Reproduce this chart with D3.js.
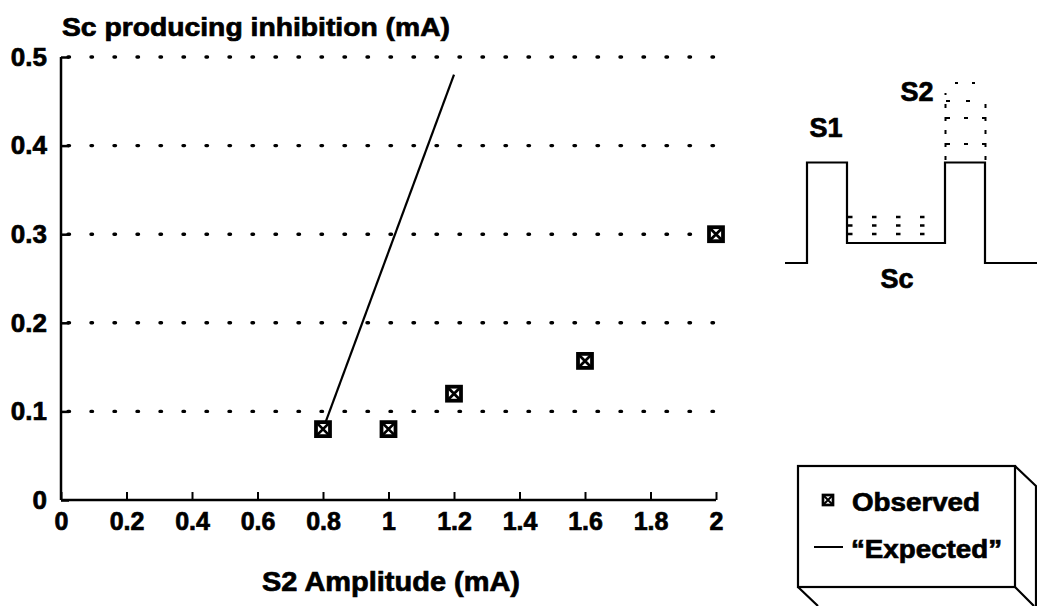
<!DOCTYPE html>
<html><head><meta charset="utf-8">
<script src="https://cdn.jsdelivr.net/npm/d3@7"></script>
<style>body{margin:0;background:#fff}svg{display:block}text{font-family:"Liberation Sans",Arial,sans-serif;font-weight:bold;fill:#000;stroke:#000;stroke-width:0.7px}</style>
</head><body>
<script>
// Data
const observedX = [0.8, 1.0, 1.2, 1.6, 2.0];
const observedY = [0.08, 0.08, 0.12, 0.157, 0.30];
const expectedX = [0.8, 1.2];
const expectedY = [0.08, 0.48];
const xTicks = [0, 0.2, 0.4, 0.6, 0.8, 1, 1.2, 1.4, 1.6, 1.8, 2];
const yTicks = [0, 0.1, 0.2, 0.3, 0.4, 0.5];
const legendLabels = ["Observed", "\u201CExpected\u201D"];

const W = 1037, H = 606;
const svg = d3.select("body").append("svg").attr("width", W).attr("height", H);

const x = d3.scaleLinear().domain([0, 2]).range([61, 716]);
const y = d3.scaleLinear().domain([0, 0.5]).range([500, 57]);

// gridlines (dotted)
svg.append("g").selectAll("line").data(yTicks.filter(d => d > 0)).join("line")
  .attr("x1", x(0) + 7).attr("x2", x(2) + 2)
  .attr("y1", d => y(d)).attr("y2", d => y(d))
  .attr("stroke", "#000").attr("stroke-width", 3.4)
  .attr("stroke-linecap", "round").attr("stroke-dasharray", "1.5,21.5");

// axes
const fmt = d => String(+d.toFixed(1));
const xAxis = d3.axisBottom(x).tickValues(xTicks).tickSize(-8).tickPadding(12).tickFormat(fmt);
const gx = svg.append("g").attr("transform", `translate(0,${y(0)})`).call(xAxis);
gx.select(".domain").attr("d", `M${x(0)},0H${x(2)}`).attr("stroke-width", 2.5);
gx.selectAll(".tick line").attr("stroke-width", 2);
gx.selectAll("text").attr("font-size", 25);

const yAxis = d3.axisLeft(y).tickValues(yTicks).tickSize(-8).tickPadding(14).tickFormat(fmt);
const gy = svg.append("g").attr("transform", `translate(${x(0)},0)`).call(yAxis);
gy.select(".domain").attr("d", `M0,${y(0)}V${y(0.5)}`).attr("stroke-width", 2.5);
gy.selectAll(".tick line").attr("stroke-width", 2.5);
gy.selectAll("text").attr("font-size", 26);

// axis titles
svg.append("text").attr("x", 62).attr("y", 36).attr("font-size", 25)
  .attr("textLength", 388).attr("lengthAdjust", "spacingAndGlyphs")
  .text("Sc producing inhibition (mA)");
svg.append("text").attr("x", 262).attr("y", 591).attr("font-size", 27)
  .attr("textLength", 258).attr("lengthAdjust", "spacingAndGlyphs")
  .text("S2 Amplitude (mA)");

// expected line
const line = d3.line().x(d => x(d[0])).y(d => y(d[1]));
svg.append("path").datum(expectedX.map((v, i) => [v, expectedY[i]]))
  .attr("d", line).attr("fill", "none").attr("stroke", "#000").attr("stroke-width", 2.2);

// marker
function marker(g, cx, cy, s) {
  const h = s / 2;
  g.append("rect").attr("x", cx - h).attr("y", cy - h).attr("width", s).attr("height", s)
    .attr("fill", "#fff").attr("stroke", "#000").attr("stroke-width", s * 0.27);
  g.append("path").attr("d", `M${cx - h},${cy - h}L${cx + h},${cy + h}M${cx + h},${cy - h}L${cx - h},${cy + h}`)
    .attr("stroke", "#000").attr("stroke-width", s * 0.2);
}
const pts = svg.append("g");
observedX.forEach((v, i) => marker(pts, x(v), y(observedY[i]), 14));

// inset pulse diagram
const ins = svg.append("g").attr("fill", "none").attr("stroke", "#000");
ins.append("path").attr("stroke-width", 2.2)
  .attr("d", "M785,263H807V162.5H847V243H945V162.5H985V263H1037");
[217, 225.5, 234].forEach(yy => {
  ins.append("line").attr("x1", 848).attr("x2", 946).attr("y1", yy).attr("y2", yy)
    .attr("stroke-width", 2.6).attr("stroke-dasharray", "4.5,19.5");
});
ins.append("line").attr("x1", 945.5).attr("x2", 945.5).attr("y1", 160).attr("y2", 93)
  .attr("stroke-width", 2).attr("stroke-dasharray", "4,9");
ins.append("line").attr("x1", 985.5).attr("x2", 985.5).attr("y1", 160).attr("y2", 98)
  .attr("stroke-width", 2).attr("stroke-dasharray", "4,9");
[[83, "3,14", 955], [101, "4,16", 946], [118, "4,14", 946], [144, "4,14", 946]].forEach(([yy, da, x1]) => {
  ins.append("line").attr("x1", x1).attr("x2", 986).attr("y1", yy).attr("y2", yy)
    .attr("stroke-width", 2).attr("stroke-dasharray", da);
});
svg.append("text").attr("x", 826).attr("y", 137).attr("text-anchor", "middle").attr("font-size", 27).text("S1");
svg.append("text").attr("x", 917).attr("y", 101).attr("text-anchor", "middle").attr("font-size", 27).text("S2");
svg.append("text").attr("x", 897).attr("y", 288).attr("text-anchor", "middle").attr("font-size", 27).text("Sc");

// legend box (3D)
const lg = svg.append("g").attr("fill", "none").attr("stroke", "#000").attr("stroke-width", 2.2);
lg.append("rect").attr("x", 798).attr("y", 466).attr("width", 217).attr("height", 121).attr("fill", "#fff");
lg.append("path").attr("d", "M1015,466L1036,486V606M798,587L818,606M1015,587L1034,606");
marker(svg.append("g"), 828, 500, 10);
svg.append("line").attr("x1", 814).attr("x2", 843).attr("y1", 547).attr("y2", 547)
  .attr("stroke", "#000").attr("stroke-width", 2);
svg.append("text").attr("x", 852).attr("y", 511).attr("font-size", 26)
  .attr("textLength", 128).attr("lengthAdjust", "spacingAndGlyphs").text(legendLabels[0]);
svg.append("text").attr("x", 851).attr("y", 558).attr("font-size", 26)
  .attr("textLength", 151).attr("lengthAdjust", "spacingAndGlyphs").text(legendLabels[1]);
</script>
</body></html>
